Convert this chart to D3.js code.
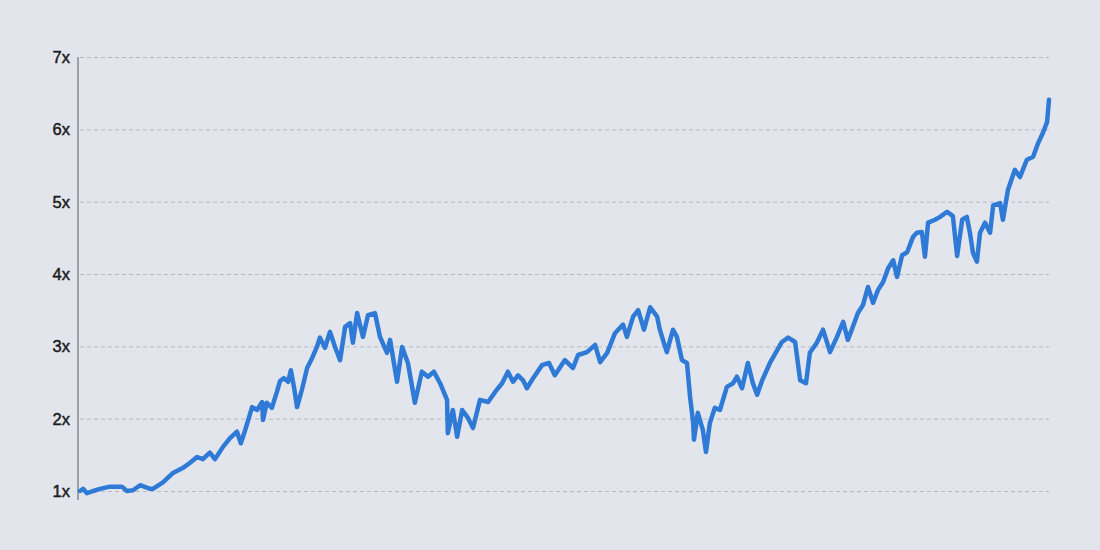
<!DOCTYPE html>
<html>
<head>
<meta charset="utf-8">
<script src="https://cdn.jsdelivr.net/npm/d3@7"></script>
<style>
  html, body { margin: 0; padding: 0; background: #e2e5ec; }
  #vis { width: 1100px; height: 550px; }
</style>
</head>
<body>
<div id="vis"></div>
<script>
// Growth multiple over time (1x = start)
const years = [
  1993.00, 1993.08, 1993.18, 1993.34, 1993.52, 1993.77, 1994.08, 1994.21, 1994.37, 1994.55,
  1994.81, 1994.88, 1995.14, 1995.40, 1995.66, 1995.84, 1996.02, 1996.17, 1996.35, 1996.48,
  1996.69, 1996.87, 1997.05, 1997.15, 1997.26, 1997.44, 1997.57, 1997.70, 1997.72, 1997.82,
  1997.95, 1998.08, 1998.16, 1998.26, 1998.37, 1998.44, 1998.52, 1998.60, 1998.73, 1998.86,
  1998.99, 1999.11, 1999.19, 1999.32, 1999.45, 1999.58, 1999.71, 1999.84, 1999.97, 2000.04,
  2000.15, 2000.30, 2000.43, 2000.61, 2000.74, 2000.92, 2001.00, 2001.18, 2001.31, 2001.46,
  2001.64, 2001.82, 2001.98, 2002.13, 2002.29, 2002.47, 2002.49, 2002.62, 2002.73, 2002.86,
  2003.01, 2003.14, 2003.32, 2003.53, 2003.71, 2003.89, 2004.04, 2004.17, 2004.30, 2004.43,
  2004.53, 2004.69, 2004.92, 2005.10, 2005.25, 2005.51, 2005.72, 2005.85, 2006.08, 2006.29,
  2006.42, 2006.60, 2006.80, 2007.01, 2007.11, 2007.27, 2007.40, 2007.55, 2007.71, 2007.89,
  2007.96, 2008.04, 2008.14, 2008.30, 2008.40, 2008.53, 2008.66, 2008.74, 2008.82, 2008.84,
  2008.94, 2009.07, 2009.15, 2009.25, 2009.38, 2009.51, 2009.69, 2009.85, 2009.95, 2010.08,
  2010.23, 2010.36, 2010.47, 2010.60, 2010.80, 2011.11, 2011.27, 2011.45, 2011.58, 2011.73,
  2011.83, 2012.01, 2012.17, 2012.35, 2012.53, 2012.69, 2012.81, 2012.94, 2013.07, 2013.20,
  2013.33, 2013.46, 2013.59, 2013.72, 2013.85, 2013.98, 2014.08, 2014.21, 2014.34, 2014.49,
  2014.59, 2014.72, 2014.80, 2014.88, 2015.06, 2015.19, 2015.37, 2015.52, 2015.63, 2015.76,
  2015.88, 2015.96, 2016.04, 2016.14, 2016.22, 2016.35, 2016.48, 2016.56, 2016.74, 2016.81,
  2016.94, 2017.12, 2017.25, 2017.43, 2017.59, 2017.72, 2017.85, 2017.95, 2018.00
];

const multiples = [
  1.00, 1.03, 0.97, 1.00, 1.03, 1.06, 1.06, 1.00, 1.01, 1.08,
  1.03, 1.03, 1.12, 1.25, 1.32, 1.39, 1.47, 1.44, 1.53, 1.44,
  1.61, 1.73, 1.82, 1.66, 1.84, 2.16, 2.12, 2.23, 1.98, 2.22,
  2.15, 2.37, 2.52, 2.56, 2.51, 2.67, 2.44, 2.16, 2.41, 2.70,
  2.84, 2.99, 3.12, 2.98, 3.20, 2.99, 2.81, 3.27, 3.32, 3.05,
  3.46, 3.13, 3.43, 3.46, 3.13, 2.91, 3.09, 2.51, 2.99, 2.77,
  2.22, 2.65, 2.58, 2.65, 2.49, 2.26, 1.80, 2.12, 1.75, 2.12,
  2.01, 1.87, 2.26, 2.23, 2.37, 2.49, 2.65, 2.51, 2.60, 2.53,
  2.42, 2.56, 2.74, 2.77, 2.60, 2.81, 2.70, 2.88, 2.92, 3.02,
  2.78, 2.91, 3.18, 3.30, 3.13, 3.41, 3.50, 3.23, 3.54, 3.41,
  3.23, 3.09, 2.92, 3.23, 3.13, 2.81, 2.77, 2.30, 1.94, 1.71,
  2.08, 1.84, 1.54, 1.94, 2.15, 2.12, 2.44, 2.49, 2.58, 2.42,
  2.77, 2.49, 2.33, 2.53, 2.77, 3.06, 3.12, 3.06, 2.53, 2.49,
  2.91, 3.05, 3.23, 2.92, 3.13, 3.34, 3.09, 3.27, 3.46, 3.57,
  3.82, 3.60, 3.78, 3.89, 4.08, 4.19, 3.96, 4.26, 4.30, 4.51,
  4.57, 4.58, 4.24, 4.71, 4.75, 4.79, 4.86, 4.80, 4.25, 4.75,
  4.79, 4.57, 4.29, 4.17, 4.57, 4.71, 4.57, 4.95, 4.98, 4.75,
  5.16, 5.44, 5.34, 5.58, 5.62, 5.81, 5.96, 6.10, 6.41
];

const yTicks = [1, 2, 3, 4, 5, 6, 7];
const yTickLabels = ["1x", "2x", "3x", "4x", "5x", "6x", "7x"];

document.addEventListener("DOMContentLoaded", function () {
    const margin = { top: 57, right: 50, bottom: 59, left: 80 };
    const width = 1100;
    const height = 550;

    const svg = d3.select("#vis")
        .append("svg")
        .attr("width", width)
        .attr("height", height)
        .attr("viewBox", [0, 0, width, height]);

    const data = years.map((t, i) => ({ t: t, v: multiples[i] }));

    const x = d3.scaleLinear()
        .domain([1993, 2018])
        .range([margin.left, width - margin.right - 1]);

    const y = d3.scaleLinear()
        .domain([1, 7])
        .range([height - margin.bottom, margin.top]);

    // Dashed gridlines + tick labels
    const yAxis = svg.append("g")
        .attr("transform", `translate(${margin.left - 2},0)`)
        .call(d3.axisLeft(y)
            .tickValues(yTicks)
            .tickFormat((d, i) => yTickLabels[i])
            .tickSize(0)
            .tickPadding(8))
        .call(g => g.select(".domain").remove())
        .call(g => g.selectAll(".tick line").clone()
            .attr("x1", 2)
            .attr("x2", width - margin.right - margin.left + 1)
            .attr("stroke", "#b6b9be")
            .attr("stroke-width", 1)
            .attr("stroke-dasharray", "4,3"));

    yAxis.selectAll(".tick text")
        .attr("fill", "#1a1a1a")
        .attr("stroke", "#1a1a1a")
        .attr("stroke-width", 0.45)
        .attr("dy", "0.34em")
        .style("font-family", "'Liberation Sans', Arial, sans-serif")
        .style("font-size", "16.5px");

    // Vertical axis line
    svg.append("line")
        .attr("x1", margin.left - 2)
        .attr("x2", margin.left - 2)
        .attr("y1", y(7))
        .attr("y2", y(1) + 9)
        .attr("stroke", "#8c8e92")
        .attr("stroke-width", 1.6);

    // The line
    const line = d3.line()
        .x(d => x(d.t))
        .y(d => y(d.v));

    svg.append("path")
        .datum(data)
        .attr("fill", "none")
        .attr("stroke", "#2e7ad6")
        .attr("stroke-width", 4.5)
        .attr("stroke-linejoin", "round")
        .attr("stroke-linecap", "round")
        .attr("d", line);
});
</script>
</body>
</html>
